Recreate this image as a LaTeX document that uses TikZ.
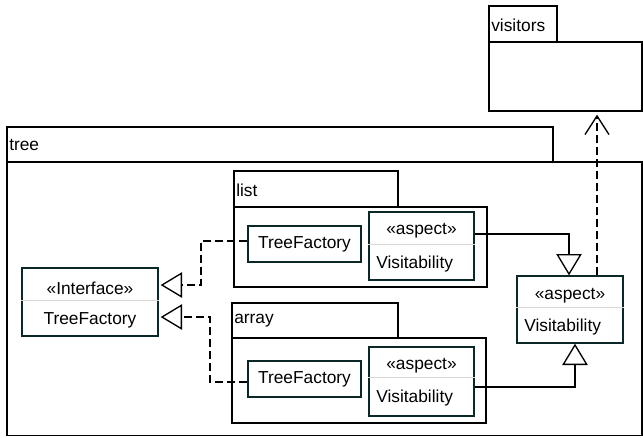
\documentclass[tikz,border=0pt]{standalone}
\usepackage{fontspec}
\setmainfont{Liberation Sans}
\usetikzlibrary{arrows.meta,calc,fit}
\definecolor{boxline}{RGB}{10,40,40}
\definecolor{sepline}{RGB}{215,215,215}
\tikzset{
  pkg/.style={draw, line width=1pt, inner sep=0pt},
  cls/.style={draw=boxline, line width=1pt, inner sep=0pt},
  lbl/.style={inner sep=0pt, font=\fontsize{13}{15.6}\selectfont},
  sep/.style={draw=sepline, line width=0.6pt},
  dep/.style={line width=1pt, dash pattern=on 6pt off 3pt},
  gen/.style={line width=1pt, -{Triangle[open, length=16pt, width=19pt, fill=white]}},
  depgen/.style={dep, -{Triangle[open, length=16pt, width=19pt, fill=white]}},
  usearrow/.style={dep, -{Straight Barb[length=14pt, width=18pt, line width=1pt]}}
}
\begin{document}
\begin{tikzpicture}[x=0.75pt, y=-0.75pt]
\useasboundingbox (0,0) rectangle (643,437);

% package visitors
\node[pkg, fit={(489,6) (557,42)}] (vistab) {};
\node[pkg, fit={(489,42) (642,111)}] (visbody) {};
\node[lbl, anchor=west] (vislbl) at (491,25) {visitors};

% package tree
\node[pkg, fit={(7,127) (553,162)}] (treetab) {};
\node[pkg, fit={(7,162) (642,435.5)}] (treebody) {};
\node[lbl, anchor=west] (treelbl) at (9,145) {tree};

% package list
\node[pkg, fit={(234,171) (398,207)}] (listtab) {};
\node[pkg, fit={(234,207) (487,287)}] (listbody) {};
\node[lbl, anchor=west] (listlbl) at (236,190) {list};

% package array
\node[pkg, fit={(232,303) (398,338)}] (arraytab) {};
\node[pkg, fit={(232,338) (486,423)}] (arraybody) {};
\node[lbl, anchor=west] (arraylbl) at (234,321) {array};

% interface TreeFactory
\node[cls, fit={(22,268) (158,336)}] (iface) {};
\draw[sep] (iface.west |- 0,300) -- (iface.east |- 0,300);
\node[lbl] (ifst) at (90,288) {«Interface»};
\node[lbl] (ifnm) at (90,320) {TreeFactory};

% list content
\node[cls, fit={(248,226) (361,262)}] (ltf) {};
\node[lbl] (ltfnm) at (304.5,244) {TreeFactory};
\node[cls, fit={(369,212) (474,280)}] (lasp) {};
\draw[sep] (lasp.west |- 0,244) -- (lasp.east |- 0,244);
\node[lbl] (laspst) at (421.5,231) {«aspect»};
\node[lbl, anchor=west] (laspnm) at (376,264) {Visitability};

% array content
\node[cls, fit={(248,361) (361,397)}] (atf) {};
\node[lbl] (atfnm) at (304.5,379) {TreeFactory};
\node[cls, fit={(369,347) (474,416)}] (aasp) {};
\draw[sep] (aasp.west |- 0,377) -- (aasp.east |- 0,377);
\node[lbl] (aaspst) at (421.5,366) {«aspect»};
\node[lbl, anchor=west] (aaspnm) at (376,398) {Visitability};

% general aspect Visitability
\node[cls, fit={(517,276) (623,343)}] (rasp) {};
\draw[sep] (rasp.west |- 0,307) -- (rasp.east |- 0,307);
\node[lbl] (raspst) at (570,296) {«aspect»};
\node[lbl, anchor=west] (raspnm) at (524,327) {Visitability};

% realizations of the interface
\draw[depgen] ($(ltf.west)+(0,-3)$) -- (201,241) |- ($(iface.east)+(2,-17)$);
\draw[depgen] ($(atf.west)+(0,3)$) -- (210,382) |- ($(iface.east)+(2,15)$);

% aspect specializations
\draw[gen] ($(lasp.east)+(0,-12)$) -| ($(rasp.north)+(-1,0)$);
\draw[gen] ($(aasp.east)+(0,5.5)$) -| ($(rasp.south)+(5,0)$);

% usage of visitors
\draw[usearrow] ($(rasp.north)+(27,0)$) -- ($(visbody.south)+(31.5,3)$);
\end{tikzpicture}
\end{document}
